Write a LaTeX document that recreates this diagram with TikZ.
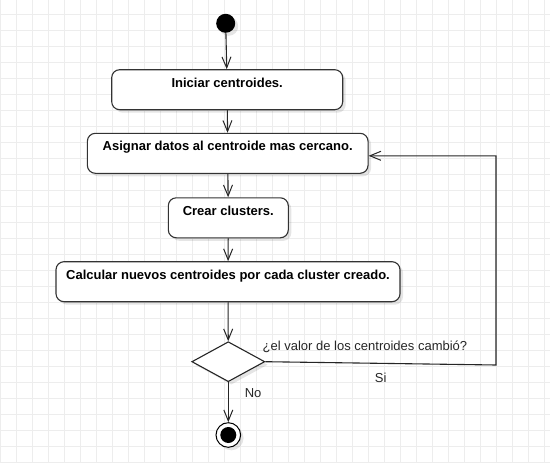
\documentclass[tikz,border=0pt]{standalone}
\usepackage{fontspec}
\setmainfont{Liberation Sans}
\usetikzlibrary{arrows.meta,shapes.geometric,shadows}

\tikzset{
  sombra/.style={drop shadow={shadow xshift=3pt,shadow yshift=-3pt,opacity=0.10,fill=black}},
  actividad/.style={draw=black!80,line width=1.1pt,rounded corners=8pt,fill=white,sombra,
    minimum height=40pt,inner sep=0pt,font=\fontsize{13}{15}\selectfont\bfseries,
    text height=9.5pt,text depth=14.2pt},
  decision/.style={draw=black!85,line width=1.1pt,diamond,fill=white,sombra,
    minimum width=73pt,minimum height=40pt,inner sep=0pt,shape aspect=1.825},
  flecha/.style={draw=black!85,line width=1.1pt,-{Straight Barb[length=11pt,width=9pt,line width=1pt]}},
  etiqueta/.style={font=\fontsize{13}{15}\selectfont,text=black!85,inner sep=0pt},
  rejilla/.style={draw=black!7,line width=1pt}
}

\begin{document}
\begin{tikzpicture}[x=1pt,y=-1pt]
  \useasboundingbox (0,0) rectangle (550,463);
  % fondo cuadriculado
  \foreach \i in {0,...,34} \draw[rejilla] (0.3+16*\i,0) -- (0.3+16*\i,463);
  \foreach \j in {-1,...,28} \draw[rejilla] (0,14.3+16*\j) -- (550,14.3+16*\j);

  \node[circle,fill=black,minimum size=19pt,inner sep=0pt,sombra] (inicio) at (225.7,23.3) {};
  \node[actividad,minimum width=231pt] (iniciar) at (227.2,89.7) {Iniciar centroides.};
  \node[actividad,minimum width=280.7pt] (asignar) at (227.7,153.3) {Asignar datos al centroide mas cercano.};
  \node[actividad,minimum width=120pt] (crear) at (228.3,217.8) {Crear clusters.};
  \node[actividad,minimum width=344pt] (calcular) at (228,281.7) {Calcular nuevos centroides por cada cluster creado.};
  \node[decision] (cambio) at (228.3,361.7) {};
  \node[etiqueta,anchor=west] (pregunta) at (262.5,347.3) {¿el valor de los centroides cambió?};
  \node[circle,draw=black,line width=1pt,fill=white,minimum size=24.6pt,inner sep=0pt,sombra] (fin) at (228.3,435) {};
  \node[circle,fill=black,minimum size=16pt,inner sep=0pt] (finint) at (fin) {};
  \coordinate (giro) at (496,365);

  \path[flecha]
    (inicio) edge (iniciar)
    (iniciar) edge (asignar)
    (asignar) edge (crear)
    (crear) edge (calcular)
    (calcular) edge (cambio)
    (cambio) edge node[etiqueta,pos=0.28,right=16pt] {No} (fin)
    ;
  \draw[flecha] (cambio.east) -- node[etiqueta,midway,below=9pt] {Si} (giro)
    |- ([yshift=-2.5pt]asignar.east);
\end{tikzpicture}
\end{document}
